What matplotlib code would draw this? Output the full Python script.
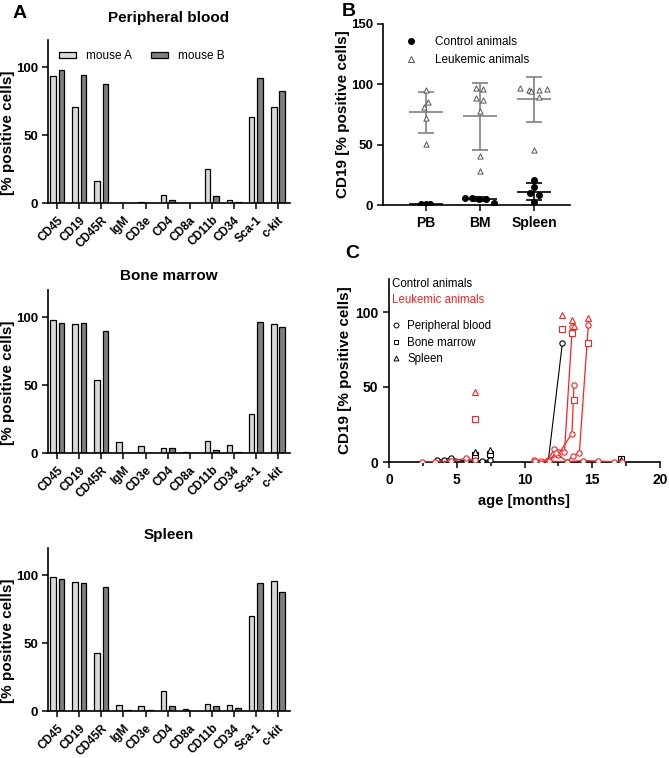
import matplotlib
matplotlib.use("Agg")
import matplotlib.pyplot as plt
import matplotlib.lines as mlines
import matplotlib.patches as mpatches
from matplotlib.ticker import MultipleLocator
import numpy as np

plt.rcParams["font.family"] = ["Liberation Sans", "DejaVu Sans"]

# ---- panel A: surface markers per organ, two mice ----
MARKERS = ["CD45", "CD19", "CD45R", "IgM", "CD3e", "CD4", "CD8a",
           "CD11b", "CD34", "Sca-1", "c-kit"]
ORGANS = ["Peripheral blood", "Bone marrow", "Spleen"]
PB_A = [93.6, 71.0, 16.0, 0.3, 0.5, 6.1, 0.0, 24.8, 2.0, 63.2, 70.6]
PB_B = [98.0, 94.6, 87.7, 0.0, 0.0, 2.0, 0.0, 5.0, 0.5, 92.0, 82.8]
BM_A = [98.0, 95.0, 54.0, 7.9, 5.2, 3.7, 1.0, 9.0, 6.1, 28.7, 95.3]
BM_B = [96.0, 96.0, 90.0, 0.3, 0.3, 3.7, 0.0, 2.0, 1.0, 96.8, 92.6]
SP_A = [98.5, 95.0, 42.4, 4.7, 3.9, 14.8, 1.5, 5.4, 4.2, 70.2, 95.8]
SP_B = [97.0, 94.0, 91.0, 1.0, 0.7, 3.9, 0.0, 3.9, 2.2, 94.6, 87.7]

# ---- panel B: CD19 in control vs leukemic animals ----
B_GROUPS = ["PB", "BM", "Spleen"]
B_CTRL = [[1.0, 0.6, 0.8, 0.3],
          [6.0, 5.5, 5.3, 5.0, 1.8],
          [20.7, 14.6, 9.7, 8.3, 2.2]]
B_LEUK = [[95.0, 85.0, 81.0, 72.0, 50.5],
          [96.7, 95.9, 88.4, 87.0, 78.2, 40.6, 27.9],
          [96.7, 95.3, 94.5, 95.3, 95.9, 89.8, 45.6]]
# horizontal scatter of the points (layout only)
B_CTRL_JIT = [[-0.1, 0.0, 0.07, 0.02],
              [-0.27, -0.14, -0.01, 0.12, 0.26],
              [0.0, 0.0, -0.07, 0.09, 0.0]]
B_LEUK_JIT = [[0.0, 0.04, -0.04, 0.0, 0.0],
              [-0.07, 0.06, -0.07, 0.06, 0.0, 0.0, 0.0],
              [-0.25, -0.09, -0.05, 0.1, 0.25, 0.09, 0.0]]

# ---- panel C: CD19 over age ----
# control animals (black)
C_CTRL_LINES = [
    ([3.55, 4.05, 4.55, 5.7, 6.35, 6.9, 7.45], [1.3, 1.5, 2.8, 0.4, 1.0, 1.0, 1.3]),
    ([11.75, 12.8], [0.5, 79.5]),
]
C_CTRL_BM = ([6.35, 7.45, 17.1], [5.0, 5.2, 2.0])
C_CTRL_SP = ([6.35, 7.45, 17.1], [6.5, 8.0, 1.5])
# leukemic animals (red)
C_LEUK_LINES = [
    ([2.4, 3.4, 4.55, 5.7, 6.35], [0.0, 0.3, 0.5, 2.5, 1.2]),
    ([10.7, 11.2, 11.75, 12.2, 12.95, 13.53], [1.5, 1.0, 1.5, 9.0, 7.0, 90.2]),
    ([11.75, 12.5, 13.5, 13.65], [0.8, 5.0, 19.0, 51.3]),
    ([11.8, 12.3, 13.15, 13.55, 14.05, 14.71], [1.0, 6.0, 0.3, 3.8, 6.3, 91.3]),
    ([10.8, 11.8, 13.1, 14.3, 15.4, 16.6, 17.2], [0.5, 0.5, 0.2, 1.0, 0.6, 0.2, 0.2]),
]
C_LEUK_BM = ([6.35, 12.79, 13.53, 13.65, 14.71], [28.5, 89.0, 86.2, 41.3, 79.5])
C_LEUK_SP = ([6.35, 12.79, 13.53, 13.68, 14.71], [46.5, 98.0, 94.7, 91.0, 95.8])

COL_A = "#d9d9d9"
COL_B = "#7f7f7f"
RED = "#ff2020"
GREY = "#808080"


def style_axes(ax, tick_fs=10):
    for s in ("top", "right"):
        ax.spines[s].set_visible(False)
    for s in ("left", "bottom"):
        ax.spines[s].set_linewidth(1.2)
    ax.tick_params(width=1.1, length=4.5)
    for lab in ax.get_yticklabels():
        lab.set_fontweight("bold")
        lab.set_fontsize(tick_fs)


W, H = 669, 758
fig = plt.figure(figsize=(W / 100, H / 100), dpi=100)


def fax(l, t, r, b):
    return fig.add_axes([l / W, 1 - b / H, (r - l) / W, (b - t) / H])


# ---------- panel A ----------
a_boxes = [(48, 40, 290, 203), (48, 290, 290, 453), (48, 548, 290, 711)]
a_data = [(PB_A, PB_B), (BM_A, BM_B), (SP_A, SP_B)]
title_y = [18, 276, 535]
x = np.arange(len(MARKERS))
for i, (box, (va, vb)) in enumerate(zip(a_boxes, a_data)):
    ax = fax(*box)
    ax.bar(x - 0.19, va, width=0.26, color=COL_A, edgecolor="black", linewidth=0.9)
    ax.bar(x + 0.19, vb, width=0.26, color=COL_B, edgecolor="black", linewidth=0.9)
    ax.set_xlim(-0.42, 10.55)
    ax.set_ylim(0, 120)
    ax.set_yticks([0, 50, 100])
    ax.set_xticks(x)
    ax.set_xticklabels(MARKERS, rotation=45, ha="right", rotation_mode="anchor",
                       fontsize=8.5, fontweight="bold")
    style_axes(ax, tick_fs=9.5)
    ax.tick_params(axis="y", pad=2.5)
    ax.set_ylabel("[% positive cells]", fontsize=11, fontweight="bold")
    ax.yaxis.set_label_coords(-0.135, 0.43)
    fig.text((box[0] + box[2]) / 2 / W, 1 - title_y[i] / H, ORGANS[i],
             ha="center", va="center", fontsize=11, fontweight="bold")
    if i == 0:
        handles = [mpatches.Patch(facecolor=COL_A, edgecolor="black", linewidth=0.9, label="mouse A"),
                   mpatches.Patch(facecolor=COL_B, edgecolor="black", linewidth=0.9, label="mouse B")]
        ax.legend(handles=handles, ncol=2, frameon=False, fontsize=8.5,
                  loc="center left", bbox_to_anchor=(0.0, 0.9),
                  handlelength=1.5, handleheight=0.5, columnspacing=1.6)

# ---------- panel B ----------
ax = fax(383, 24, 570, 205)
for gi in range(len(B_GROUPS)):
    ctrl = np.array(B_CTRL[gi])
    leuk = np.array(B_LEUK[gi])
    ax.scatter(gi + np.array(B_LEUK_JIT[gi]), leuk, marker="^", s=14,
               facecolors="white", edgecolors="#555555", linewidths=0.7, zorder=3)
    ax.scatter(gi + np.array(B_CTRL_JIT[gi]), ctrl, marker="o", s=16,
               color="black", zorder=3)
    for vals, col in ((leuk, GREY), (ctrl, "black")):
        m, sd = vals.mean(), vals.std(ddof=1)
        ax.hlines(m, gi - 0.31, gi + 0.31, color=col, linewidth=1.2, zorder=2)
        ax.errorbar(gi, m, yerr=sd, color=col, capsize=6, elinewidth=1.2,
                    capthick=1.2, fmt="none", zorder=2)
ax.set_xlim(-0.8, 2.67)
ax.set_ylim(0, 150)
ax.set_yticks([0, 50, 100, 150])
ax.set_xticks(range(len(B_GROUPS)))
ax.set_xticklabels(B_GROUPS, fontsize=10, fontweight="bold")
style_axes(ax, tick_fs=9.5)
ax.tick_params(axis="y", pad=2.5)
ax.set_ylabel("CD19 [% positive cells]", fontsize=11, fontweight="bold")
ax.yaxis.set_label_coords(-0.175, 0.5)
hb = [mlines.Line2D([], [], marker="o", color="black", linestyle="none",
                    markersize=4, label="Control animals"),
      mlines.Line2D([], [], marker="^", markerfacecolor="white", markeredgecolor="#555555",
                    markeredgewidth=0.7, linestyle="none", markersize=4,
                    label="Leukemic animals")]
ax.legend(handles=hb, frameon=False, fontsize=8.5, loc="upper left",
          bbox_to_anchor=(0.03, 0.99), handletextpad=1.0, labelspacing=0.45)

# ---------- panel C ----------
ax = fax(389, 279, 660, 462)
mk = dict(markersize=3.8, markerfacecolor="white", markeredgewidth=0.8)
for xs, ys in C_CTRL_LINES:
    ax.plot(xs, ys, "-o", color="black", linewidth=0.8, zorder=3, **mk)
for xs, ys in C_LEUK_LINES:
    ax.plot(xs, ys, "-o", color=RED, linewidth=0.9, zorder=4, **mk)
ax.plot(*C_CTRL_BM, "s", color="black", linestyle="none", zorder=3, **mk)
ax.plot(*C_CTRL_SP, "^", color="black", linestyle="none", zorder=3, **mk)
ax.plot(*C_LEUK_BM, "s", color=RED, linestyle="none", zorder=4, **mk)
ax.plot(*C_LEUK_SP, "^", color=RED, linestyle="none", zorder=4, **mk)
ax.set_xlim(0, 20)
ax.set_ylim(0, 122)
ax.set_xticks([0, 5, 10, 15, 20])
ax.xaxis.set_minor_locator(MultipleLocator(2.5))
ax.set_yticks([0, 50, 100])
style_axes(ax)
ax.tick_params(axis="x", which="minor", length=3, width=1.1)
for lab in ax.get_xticklabels():
    lab.set_fontweight("bold")
    lab.set_fontsize(10)
ax.set_xlabel("age [months]", fontsize=10.5, fontweight="bold", labelpad=5)
ax.set_ylabel("CD19 [% positive cells]", fontsize=11, fontweight="bold")
ax.yaxis.set_label_coords(-0.135, 0.5)
ax.text(0.01, 0.97, "Control animals", transform=ax.transAxes, fontsize=8.3,
        color="black", va="center")
ax.text(0.01, 0.885, "Leukemic animals", transform=ax.transAxes, fontsize=8.3,
        color=RED, va="center")
hc = [mlines.Line2D([], [], marker=m, color="black", linestyle="none", markersize=3.5,
                    markerfacecolor="white", markeredgewidth=0.7, label=l)
      for m, l in (("o", "Peripheral blood"), ("s", "Bone marrow"), ("^", "Spleen"))]
ax.legend(handles=hc, frameon=False, fontsize=8.3, loc="upper left",
          bbox_to_anchor=(-0.01, 0.80), handlelength=0.8, handletextpad=0.6,
          labelspacing=0.39, borderaxespad=0)

# panel letters
for letter, px, py in (("A", 20, 13), ("B", 349, 12), ("C", 352, 253)):
    fig.text(px / W, 1 - py / H, letter, fontsize=14, fontweight="bold",
             ha="center", va="center")

fig.savefig("out.png", dpi=100)
